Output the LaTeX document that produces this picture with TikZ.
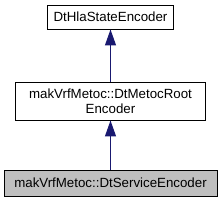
\documentclass[tikz,border=0pt]{standalone}
\usepackage{fontspec}
\setmainfont{Liberation Sans}
\usetikzlibrary{arrows.meta}
\definecolor{edgeblue}{HTML}{191970}
\definecolor{curfill}{HTML}{BFBFBF}
\begin{document}
\begin{tikzpicture}[x=1pt,y=-1pt,
  cls/.style={draw=black, line width=0.9pt, fill=white, inner sep=0pt, font=\fontsize{13.3}{15}\selectfont, align=center},
  inh/.style={draw=edgeblue, line width=1.1pt, -{Triangle[length=16pt,width=11pt]}}]
\useasboundingbox (0,0) rectangle (224,203);
\node[cls, minimum width=126pt, minimum height=24pt] (a) at (110.5,17) {DtHlaStateEncoder};
\node[cls, minimum width=190pt, minimum height=38pt] (b) at (110.5,101) {makVrfMetoc::DtMetocRoot\\Encoder};
\node[cls, fill=curfill, minimum width=213pt, minimum height=26pt] (c) at (110.5,183) {makVrfMetoc::DtServiceEncoder};
\draw[inh] (b.north) -- (a.south);
\draw[inh] (c.north) -- (b.south);
\end{tikzpicture}
\end{document}
